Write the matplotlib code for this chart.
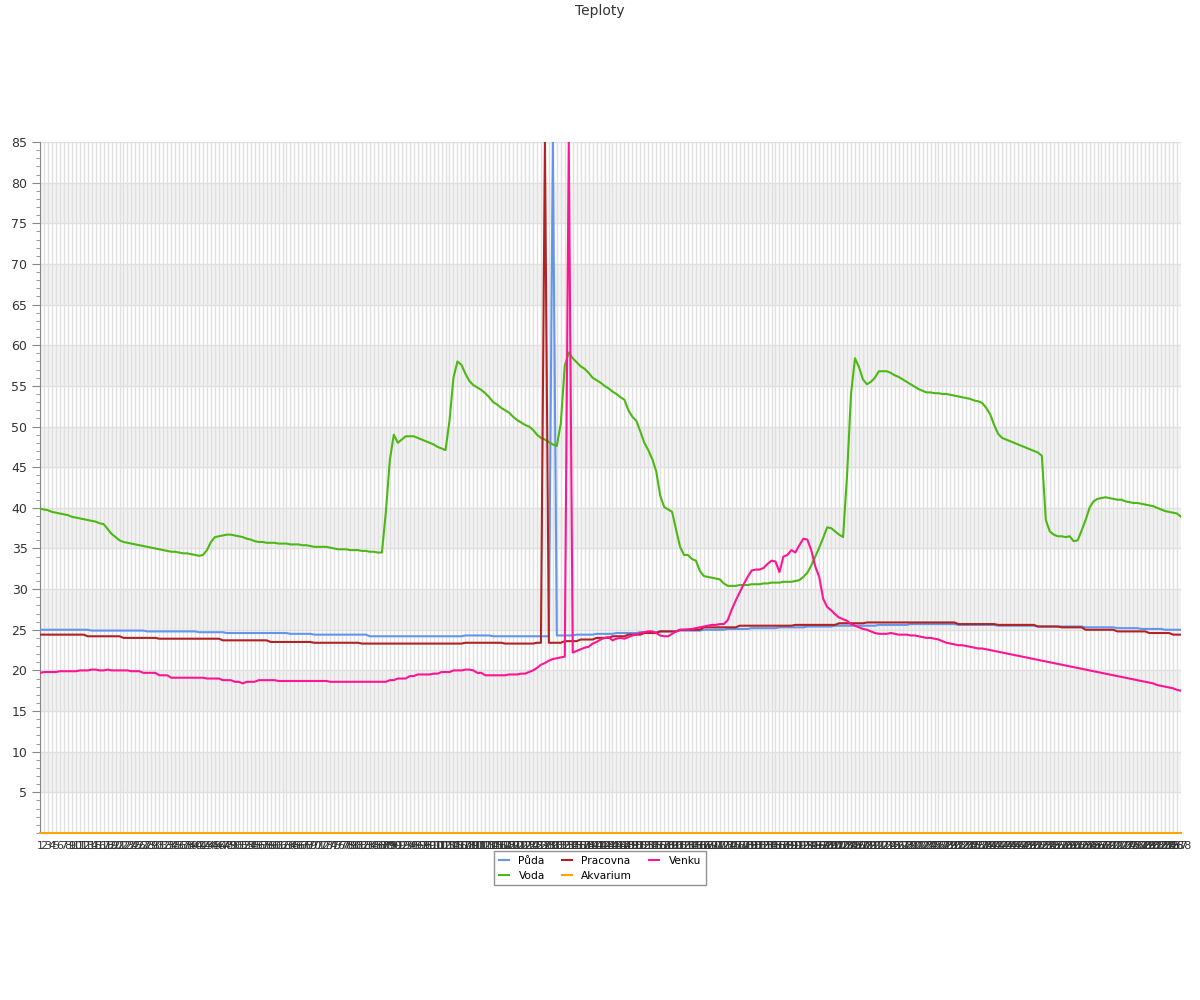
import matplotlib
matplotlib.use('Agg')
import matplotlib.pyplot as plt
import numpy as np
from matplotlib.ticker import MultipleLocator, FixedLocator

categories = [str(i) for i in range(1, 289)]

puda = [
    25.0, 25.0, 25.0, 25.0, 25.0, 25.0, 25.0, 25.0, 25.0, 25.0, 25.0, 25.0,
    25.0, 24.9, 24.9, 24.9, 24.9, 24.9, 24.9, 24.9, 24.9, 24.9, 24.9, 24.9,
    24.9, 24.9, 24.9, 24.8, 24.8, 24.8, 24.8, 24.8, 24.8, 24.8, 24.8, 24.8,
    24.8, 24.8, 24.8, 24.8, 24.7, 24.7, 24.7, 24.7, 24.7, 24.7, 24.7, 24.6,
    24.6, 24.6, 24.6, 24.6, 24.6, 24.6, 24.6, 24.6, 24.6, 24.6, 24.6, 24.6,
    24.6, 24.6, 24.6, 24.5, 24.5, 24.5, 24.5, 24.5, 24.5, 24.4, 24.4, 24.4,
    24.4, 24.4, 24.4, 24.4, 24.4, 24.4, 24.4, 24.4, 24.4, 24.4, 24.4, 24.2,
    24.2, 24.2, 24.2, 24.2, 24.2, 24.2, 24.2, 24.2, 24.2, 24.2, 24.2, 24.2,
    24.2, 24.2, 24.2, 24.2, 24.2, 24.2, 24.2, 24.2, 24.2, 24.2, 24.2, 24.3,
    24.3, 24.3, 24.3, 24.3, 24.3, 24.3, 24.2, 24.2, 24.2, 24.2, 24.2, 24.2,
    24.2, 24.2, 24.2, 24.2, 24.2, 24.2, 24.2, 24.2, 24.2, 85.0, 24.3, 24.3,
    24.3, 24.3, 24.3, 24.4, 24.4, 24.4, 24.4, 24.4, 24.5, 24.5, 24.5, 24.5,
    24.5, 24.6, 24.6, 24.6, 24.6, 24.6, 24.6, 24.7, 24.7, 24.7, 24.7, 24.7,
    24.8, 24.8, 24.8, 24.8, 24.8, 24.9, 24.9, 24.9, 24.9, 24.9, 24.9, 25.0,
    25.0, 25.0, 25.0, 25.0, 25.0, 25.1, 25.1, 25.1, 25.1, 25.1, 25.1, 25.2,
    25.2, 25.2, 25.2, 25.2, 25.2, 25.2, 25.3, 25.3, 25.3, 25.3, 25.3, 25.3,
    25.3, 25.4, 25.4, 25.4, 25.4, 25.4, 25.4, 25.4, 25.5, 25.5, 25.5, 25.5,
    25.5, 25.5, 25.5, 25.5, 25.5, 25.5, 25.5, 25.6, 25.6, 25.6, 25.6, 25.6,
    25.6, 25.6, 25.6, 25.7, 25.7, 25.7, 25.7, 25.7, 25.7, 25.7, 25.7, 25.7,
    25.7, 25.7, 25.7, 25.6, 25.6, 25.6, 25.6, 25.6, 25.6, 25.6, 25.6, 25.6,
    25.6, 25.5, 25.5, 25.5, 25.5, 25.5, 25.5, 25.5, 25.5, 25.5, 25.5, 25.4,
    25.4, 25.4, 25.4, 25.4, 25.4, 25.4, 25.4, 25.4, 25.4, 25.4, 25.4, 25.3,
    25.3, 25.3, 25.3, 25.3, 25.3, 25.3, 25.3, 25.2, 25.2, 25.2, 25.2, 25.2,
    25.2, 25.1, 25.1, 25.1, 25.1, 25.1, 25.1, 25.0, 25.0, 25.0, 25.0, 25.0,
]

voda = [
    39.9, 39.8, 39.7, 39.5, 39.4, 39.3, 39.2, 39.1, 38.9, 38.8, 38.7, 38.6,
    38.5, 38.4, 38.3, 38.1, 38.0, 37.4, 36.8, 36.4, 36.0, 35.8, 35.7, 35.6,
    35.5, 35.4, 35.3, 35.2, 35.1, 35.0, 34.9, 34.8, 34.7, 34.6, 34.6, 34.5,
    34.4, 34.4, 34.3, 34.2, 34.1, 34.2, 34.8, 35.8, 36.4, 36.5, 36.6, 36.7,
    36.7, 36.6, 36.5, 36.4, 36.2, 36.1, 35.9, 35.8, 35.8, 35.7, 35.7, 35.7,
    35.6, 35.6, 35.6, 35.5, 35.5, 35.5, 35.4, 35.4, 35.3, 35.2, 35.2, 35.2,
    35.2, 35.1, 35.0, 34.9, 34.9, 34.9, 34.8, 34.8, 34.8, 34.7, 34.7, 34.6,
    34.6, 34.5, 34.5, 39.5, 45.9, 49.0, 48.0, 48.4, 48.8, 48.8, 48.8, 48.6,
    48.4, 48.2, 48.0, 47.8, 47.5, 47.3, 47.1, 50.7, 56.0, 58.0, 57.6, 56.5,
    55.6, 55.1, 54.8, 54.5, 54.1, 53.6, 53.0, 52.7, 52.3, 52.0, 51.7, 51.2,
    50.8, 50.5, 50.2, 50.0, 49.6, 49.0, 48.6, 48.4, 48.1, 47.8, 47.6, 50.4,
    57.5, 59.1, 58.4, 57.9, 57.4, 57.1, 56.6, 56.0, 55.7, 55.4, 55.0, 54.7,
    54.3, 54.0, 53.6, 53.3, 52.0, 51.2, 50.7, 49.4, 48.0, 47.1, 46.0, 44.5,
    41.5, 40.1, 39.8, 39.5, 37.3, 35.2, 34.2, 34.2, 33.7, 33.5, 32.2, 31.6,
    31.5, 31.4, 31.3, 31.2, 30.7, 30.4, 30.4, 30.4, 30.5, 30.5, 30.5, 30.6,
    30.6, 30.6, 30.7, 30.7, 30.8, 30.8, 30.8, 30.9, 30.9, 30.9, 31.0, 31.1,
    31.5, 32.0, 32.9, 34.0, 35.1, 36.3, 37.6, 37.5, 37.1, 36.7, 36.4, 44.0,
    54.0, 58.4, 57.3, 55.8, 55.2, 55.5, 56.0, 56.8, 56.8, 56.8, 56.6, 56.3,
    56.1, 55.8, 55.5, 55.2, 54.9, 54.6, 54.4, 54.2, 54.2, 54.1, 54.1, 54.0,
    54.0, 53.9, 53.8, 53.7, 53.6, 53.5, 53.4, 53.2, 53.1, 52.9, 52.3, 51.5,
    50.2, 49.1, 48.6, 48.4, 48.2, 48.0, 47.8, 47.6, 47.4, 47.2, 47.0, 46.8,
    46.4, 38.5, 37.1, 36.7, 36.5, 36.5, 36.4, 36.5, 35.9, 36.0, 37.2, 38.5,
    40.0, 40.8, 41.1, 41.2, 41.3, 41.2, 41.1, 41.0, 41.0, 40.8, 40.7, 40.6,
    40.6, 40.5, 40.4, 40.3, 40.2, 40.0, 39.8, 39.6, 39.5, 39.4, 39.3, 38.9,
]

pracovna = [
    24.4, 24.4, 24.4, 24.4, 24.4, 24.4, 24.4, 24.4, 24.4, 24.4, 24.4, 24.4,
    24.2, 24.2, 24.2, 24.2, 24.2, 24.2, 24.2, 24.2, 24.2, 24.0, 24.0, 24.0,
    24.0, 24.0, 24.0, 24.0, 24.0, 24.0, 23.9, 23.9, 23.9, 23.9, 23.9, 23.9,
    23.9, 23.9, 23.9, 23.9, 23.9, 23.9, 23.9, 23.9, 23.9, 23.9, 23.7, 23.7,
    23.7, 23.7, 23.7, 23.7, 23.7, 23.7, 23.7, 23.7, 23.7, 23.7, 23.5, 23.5,
    23.5, 23.5, 23.5, 23.5, 23.5, 23.5, 23.5, 23.5, 23.5, 23.4, 23.4, 23.4,
    23.4, 23.4, 23.4, 23.4, 23.4, 23.4, 23.4, 23.4, 23.4, 23.3, 23.3, 23.3,
    23.3, 23.3, 23.3, 23.3, 23.3, 23.3, 23.3, 23.3, 23.3, 23.3, 23.3, 23.3,
    23.3, 23.3, 23.3, 23.3, 23.3, 23.3, 23.3, 23.3, 23.3, 23.3, 23.3, 23.4,
    23.4, 23.4, 23.4, 23.4, 23.4, 23.4, 23.4, 23.4, 23.4, 23.3, 23.3, 23.3,
    23.3, 23.3, 23.3, 23.3, 23.3, 23.4, 23.4, 85.0, 23.4, 23.4, 23.4, 23.4,
    23.6, 23.6, 23.6, 23.6, 23.8, 23.8, 23.8, 23.8, 24.0, 24.0, 24.0, 24.0,
    24.2, 24.2, 24.2, 24.2, 24.4, 24.4, 24.4, 24.4, 24.6, 24.6, 24.6, 24.6,
    24.8, 24.8, 24.8, 24.8, 24.8, 25.0, 25.0, 25.0, 25.0, 25.0, 25.0, 25.3,
    25.3, 25.3, 25.3, 25.3, 25.3, 25.3, 25.3, 25.3, 25.5, 25.5, 25.5, 25.5,
    25.5, 25.5, 25.5, 25.5, 25.5, 25.5, 25.5, 25.5, 25.5, 25.5, 25.6, 25.6,
    25.6, 25.6, 25.6, 25.6, 25.6, 25.6, 25.6, 25.6, 25.6, 25.8, 25.8, 25.8,
    25.8, 25.8, 25.8, 25.8, 25.9, 25.9, 25.9, 25.9, 25.9, 25.9, 25.9, 25.9,
    25.9, 25.9, 25.9, 25.9, 25.9, 25.9, 25.9, 25.9, 25.9, 25.9, 25.9, 25.9,
    25.9, 25.9, 25.9, 25.7, 25.7, 25.7, 25.7, 25.7, 25.7, 25.7, 25.7, 25.7,
    25.7, 25.6, 25.6, 25.6, 25.6, 25.6, 25.6, 25.6, 25.6, 25.6, 25.6, 25.4,
    25.4, 25.4, 25.4, 25.4, 25.4, 25.3, 25.3, 25.3, 25.3, 25.3, 25.3, 25.0,
    25.0, 25.0, 25.0, 25.0, 25.0, 25.0, 25.0, 24.8, 24.8, 24.8, 24.8, 24.8,
    24.8, 24.8, 24.8, 24.6, 24.6, 24.6, 24.6, 24.6, 24.6, 24.4, 24.4, 24.4,
]

akvarium = [0.0] * 288

venku = [
    19.7, 19.8, 19.8, 19.8, 19.8, 19.9, 19.9, 19.9, 19.9, 19.9, 20.0, 20.0,
    20.0, 20.1, 20.1, 20.0, 20.0, 20.1, 20.0, 20.0, 20.0, 20.0, 20.0, 19.9,
    19.9, 19.9, 19.7, 19.7, 19.7, 19.7, 19.4, 19.4, 19.4, 19.1, 19.1, 19.1,
    19.1, 19.1, 19.1, 19.1, 19.1, 19.1, 19.0, 19.0, 19.0, 19.0, 18.8, 18.8,
    18.8, 18.6, 18.6, 18.4, 18.6, 18.6, 18.6, 18.8, 18.8, 18.8, 18.8, 18.8,
    18.7, 18.7, 18.7, 18.7, 18.7, 18.7, 18.7, 18.7, 18.7, 18.7, 18.7, 18.7,
    18.7, 18.6, 18.6, 18.6, 18.6, 18.6, 18.6, 18.6, 18.6, 18.6, 18.6, 18.6,
    18.6, 18.6, 18.6, 18.6, 18.8, 18.8, 19.0, 19.0, 19.0, 19.3, 19.3, 19.5,
    19.5, 19.5, 19.5, 19.6, 19.6, 19.8, 19.8, 19.8, 20.0, 20.0, 20.0, 20.1,
    20.1, 20.0, 19.7, 19.7, 19.4, 19.4, 19.4, 19.4, 19.4, 19.4, 19.5, 19.5,
    19.5, 19.6, 19.6, 19.8, 20.0, 20.3, 20.7, 20.9, 21.2, 21.4, 21.5, 21.6,
    21.7, 85.0, 22.2, 22.4, 22.6, 22.8, 22.9, 23.3, 23.5, 23.8, 24.0, 24.1,
    23.7, 23.9, 24.0, 23.9, 24.1, 24.3, 24.4, 24.6, 24.7, 24.8, 24.8, 24.6,
    24.3, 24.2, 24.2, 24.5, 24.8, 25.0, 25.0, 25.05, 25.1, 25.2, 25.3, 25.4,
    25.5, 25.6, 25.6, 25.7, 25.7, 26.2, 27.5, 28.6, 29.6, 30.6, 31.5, 32.3,
    32.4, 32.4, 32.6, 33.1, 33.5, 33.4, 32.1, 34.0, 34.2, 34.8, 34.5, 35.4,
    36.2, 36.1, 34.8, 32.8, 31.5, 28.8, 27.8, 27.4, 26.9, 26.5, 26.3, 26.1,
    25.7, 25.5, 25.3, 25.1, 25.0, 24.8, 24.6, 24.5, 24.5, 24.5, 24.6, 24.5,
    24.4, 24.4, 24.4, 24.3, 24.3, 24.2, 24.1, 24.0, 24.0, 23.9, 23.8, 23.6,
    23.4, 23.3, 23.2, 23.1, 23.1, 23.0, 22.9, 22.8, 22.7, 22.7, 22.6, 22.5,
    22.4, 22.3, 22.2, 22.1, 22.0, 21.9, 21.8, 21.7, 21.6, 21.5, 21.4, 21.3,
    21.2, 21.1, 21.0, 20.9, 20.8, 20.7, 20.6, 20.5, 20.4, 20.3, 20.2, 20.1,
    20.0, 19.9, 19.8, 19.7, 19.6, 19.5, 19.4, 19.3, 19.2, 19.1, 19.0, 18.9,
    18.8, 18.7, 18.6, 18.5, 18.4, 18.2, 18.1, 18.0, 17.9, 17.8, 17.6, 17.5,
]

series_names = ['Půda', 'Voda', 'Pracovna', 'Akvarium', 'Venku']
series_values = [puda, voda, pracovna, akvarium, venku]
series_colors = ['#6495ED', '#4CB814', '#B22222', '#FFA500', '#FF1493']

for v in series_values:
    assert len(v) == len(categories), len(v)

fig = plt.figure(figsize=(12, 10), dpi=100)
ax = fig.add_axes([40 / 1200, 1 - 833 / 1000, 1141 / 1200, 691 / 1000])

x = np.arange(len(categories))

for lo in range(5, 85, 10):
    ax.axhspan(lo, lo + 5, color='#f2f2f2', zorder=0, lw=0)

ax.set_xlim(0, len(categories) - 1)
ax.set_ylim(0, 85)

ax.set_xticks(x)
ax.set_xticklabels(categories, fontsize=8, color='#333333')
ax.tick_params(axis='x', length=0, pad=6)
ax.yaxis.set_major_locator(FixedLocator(list(range(5, 90, 5))))
ax.yaxis.set_minor_locator(MultipleLocator(1))
ax.tick_params(axis='y', which='major', length=6, color='#888888', labelsize=9, labelcolor='#333333', pad=3)
ax.tick_params(axis='y', which='minor', length=3, color='#888888')
ax.grid(axis='x', color='#e0e0e0', lw=1.0, zorder=1)
ax.grid(axis='y', which='major', color='#e0e0e0', lw=1.0, zorder=1)
ax.set_axisbelow(True)

for s in ['top', 'right', 'bottom']:
    ax.spines[s].set_visible(False)
ax.spines['left'].set_color('#888888')

handles = []
for name, vals, col in zip(series_names, series_values, series_colors):
    h, = ax.plot(x, vals, color=col, lw=1.5, label=name, zorder=3,
                 clip_on=(name != 'Akvarium'))
    handles.append(h)

fig.text(0.5, 1 - 11 / 1000, 'Teploty', ha='center', va='center', fontsize=10, color='#333333')

leg = fig.legend(handles, series_names, loc='upper center', bbox_to_anchor=(0.5, 1 - 851 / 1000),
                 ncol=3, fontsize=7.7, frameon=True, fancybox=False, edgecolor='#777777',
                 handlelength=0.9, columnspacing=1.6, borderpad=0.45, labelspacing=0.45,
                 handletextpad=0.9, borderaxespad=0)
leg.get_frame().set_linewidth(1.0)

fig.savefig('out.png', dpi=100)
